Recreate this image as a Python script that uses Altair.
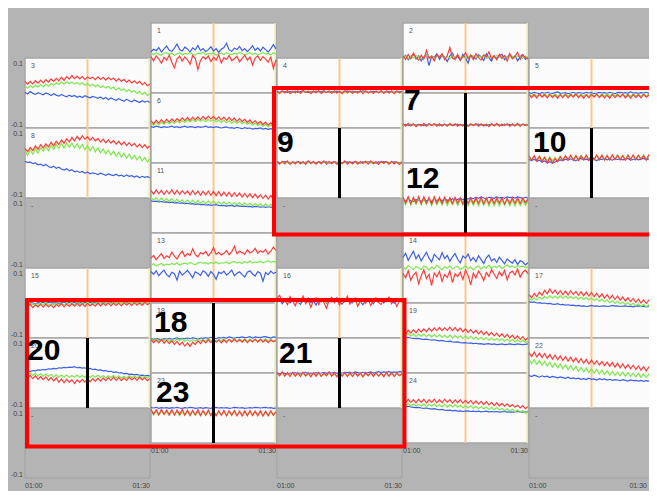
import altair as alt
import pandas as pd

# ---------------- data ----------------
N_POINTS = 49                       # samples from 01:00 to 01:30
X_TICK_LABELS = ["01:00", "01:30"]
Y_TICK_LABELS = ["0.1", "-0.1"]
MARK_MINUTE = 15                    # orange marker at 01:15
END_MINUTE = 30

PANEL_GRID = [                      # columns, top to bottom
    ["3", "8", "-", "15", "20", "-"],
    ["1", "6", "11", "13", "18", "23"],
    ["4", "9", "-", "16", "21", "-"],
    ["2", "7", "12", "14", "19", "24"],
    ["5", "10", "-", "17", "22", "-"],
]

# values in thousandths of the y unit (panel range -0.1 .. 0.1)
P1_RED = [4, -8, 6, -3, -15, 2, -6, 8, -12, -28, -2, 5, -9, 3, -5, -18, 7, -1, -33, -7, 4, -3, 6, -10, 2, -6, 9, -14, 1, -4, 7, -8, -2, 5, -11, -1, 8, -6, 3, -20, 0, 6, -7, 4, -3, -12, 2, -30, -5]
P1_GREEN = [14, 9, 15, 11, 8, 13, 16, 10, 14, 7, 12, 15, 9, 13, 11, 16, 10, 8, 14, 12, 17, 9, 13, 11, 15, 8, 12, 14, 10, 15, 12, 9, 14, 11, 16, 13, 8, 12, 15, 10, 14, 9, 12, 16, 11, 13, 9, 15, 12]
P1_BLUE = [18, 25, 21, 30, 17, 26, 34, 22, 19, 28, 40, 24, 20, 31, 26, 17, 29, 23, 36, 21, 27, 18, 24, 32, 20, 27, 16, 25, 30, 42, 23, 19, 28, 24, 33, 21, 27, 18, 26, 35, 22, 29, 20, 31, 24, 17, 27, 38, 26]

P2_RED = [6, -4, 10, -2, 14, 1, -6, 8, -3, 22, -1, 5, -8, 9, 2, 12, -5, 7, 30, 0, -4, 10, -7, 4, 15, -2, 8, -5, 12, 1, -6, 9, 3, 18, -3, 6, -5, 11, 0, 7, -9, 13, -2, 5, 16, -4, 8, 1, -3]
P2_GREEN = [2, 6, -1, 5, 0, 7, 3, -2, 4, 8, 1, 5, -1, 6, 3, 7, 0, 5, -2, 6, 2, 8, 1, 4, -1, 6, 3, 7, 0, 5, 2, 8, -1, 4, 6, 1, 7, 3, -2, 5, 2, 6, 4, 0, 6, 3, -1, 5, 2]
P2_BLUE = [0, 8, -5, 4, 11, -3, 6, -8, 3, 9, -22, 5, 1, 12, -4, 7, 2, -10, 6, 14, -2, 5, -6, 10, 0, -15, 8, 3, -3, 9, 4, -7, 12, 1, -9, 7, -2, 5, 11, -5, 3, 9, -1, 6, -8, 4, 10, -4, 2]

P3_RED = [34, 25, 33, 26, 35, 28, 37, 29, 38, 31, 40, 33, 42, 35, 45, 36, 47, 40, 50, 41, 48, 40, 47, 39, 46, 41, 45, 38, 46, 39, 45, 37, 44, 38, 43, 34, 41, 33, 39, 31, 37, 29, 35, 27, 33, 24, 30, 21, 26]
P3_GREEN = [20, 14, 21, 15, 22, 17, 24, 18, 25, 20, 27, 22, 29, 24, 31, 25, 32, 27, 31, 26, 30, 24, 29, 22, 27, 20, 25, 18, 23, 16, 21, 14, 19, 12, 17, 9, 15, 7, 12, 4, 10, 2, 7, -1, 5, -4, 2, -7, -3]
P3_BLUE = [2, -3, 4, -1, -4, 1, -2, -5, 0, -3, -7, -2, -6, -9, -4, -8, -11, -6, -10, -7, -12, -9, -13, -8, -11, -14, -10, -12, -15, -11, -17, -13, -19, -14, -18, -21, -16, -20, -24, -18, -22, -25, -20, -24, -27, -22, -26, -23, -27]

P4_RED = [5, -1, 6, 0, 7, -2, 5, 0, 6, -1, 7, 1, 5, -2, 6, 0, 7, -1, 5, 1, 6, -1, 6, 0, 5, -2, 7, 1, 6, -1, 5, 0, 7, -2, 6, 0, 5, -1, 6, 1, 7, -1, 5, 0, 6, -2, 5, 1, 4]
P4_GREEN = [3, 0, 4, 1, 5, 0, 4, 1, 5, 0, 4, 2, 5, 1, 4, 1, 5, 0, 4, 2, 5, 1, 4, 0, 5, 1, 4, 0, 5, 1, 4, 0, 5, 2, 4, 1, 5, 0, 4, 1, 5, 2, 4, 0, 5, 1, 4, 0, 3]
P4_BLUE = [4, 2, 5, 3, 1, 4, 3, 5, 2, 4, 6, 3, 1, 4, 2, 5, 3, 4, 6, 2, 3, 4, 1, 5, 3, 2, 4, 6, 3, 5, 2, 4, 3, 6, 4, 2, 4, 5, 3, 1, 4, 2, 5, 3, 4, 2, 5, 3, 4]

P5_RED = [-4, -13, -5, -14, -3, -12, -5, -14, -4, -13, -6, -15, -5, -13, -4, -14, -5, -12, -3, -13, -6, -15, -5, -14, -4, -12, -3, -13, -5, -14, -6, -15, -4, -13, -5, -12, -3, -14, -5, -15, -4, -13, -5, -14, -4, -12, -6, -15, -8]
P5_GREEN = [-3, -9, -2, -10, -4, -9, -2, -10, -3, -9, -2, -10, -4, -9, -2, -10, -3, -9, -2, -10, -4, -9, -3, -10, -2, -9, -4, -10, -3, -9, -2, -10, -3, -9, -2, -10, -4, -9, -3, -10, -2, -9, -3, -10, -2, -9, -4, -10, -5]
P5_BLUE = [1, -1, 2, 0, -2, 1, -1, 2, 0, -1, 1, 3, -1, 0, 1, -2, 0, 2, -1, 1, 0, -1, 2, 0, 1, -2, 0, 2, 0, 1, -1, 2, 0, -2, 1, 2, 0, 1, -1, 3, 0, 1, -1, 1, 0, 2, -1, 1, 0]

P6_RED = [21, 12, 22, 14, 24, 15, 25, 17, 26, 18, 27, 20, 29, 21, 30, 22, 31, 23, 32, 24, 33, 25, 34, 26, 33, 24, 32, 23, 31, 22, 30, 21, 28, 19, 27, 18, 25, 16, 23, 14, 21, 12, 19, 10, 17, 8, 15, 6, 12]
P6_GREEN = [15, 8, 16, 9, 17, 11, 18, 12, 19, 13, 20, 15, 21, 16, 23, 17, 24, 18, 25, 19, 24, 18, 25, 19, 24, 17, 23, 16, 22, 15, 21, 14, 20, 13, 19, 12, 18, 10, 16, 8, 14, 7, 13, 5, 11, 3, 9, 2, 7]
P6_BLUE = [4, 2, 5, 3, 1, 4, 2, 3, 5, 2, 4, 1, 3, 5, 2, 4, 3, 1, 4, 2, 3, 5, 2, 3, 1, 4, 2, 0, 2, 3, 0, 1, -1, 2, 0, -2, 1, -1, 0, -3, -1, -2, 0, -3, -1, -4, -2, -3, -4]

P7_RED = [12, 5, 13, 6, 12, 4, 11, 6, 13, 5, 12, 7, 13, 5, 12, 6, 11, 5, 13, 7, 12, 5, 11, 6, 13, 5, 12, 7, 13, 5, 12, 6, 11, 4, 12, 6, 13, 5, 11, 7, 12, 5, 12, 6, 13, 5, 11, 7, 10]
P7_GREEN = [9, 6, 11, 7, 10, 5, 9, 7, 11, 6, 10, 8, 11, 6, 10, 7, 11, 6, 9, 8, 11, 6, 10, 7, 11, 5, 9, 8, 11, 6, 10, 7, 11, 5, 10, 7, 11, 6, 10, 8, 11, 6, 10, 7, 9, 6, 11, 8, 9]
P7_BLUE = [8, 10, 7, 9, 11, 8, 9, 10, 7, 9, 11, 8, 10, 9, 7, 9, 11, 8, 10, 7, 9, 11, 8, 10, 9, 7, 10, 8, 9, 11, 8, 10, 7, 9, 11, 8, 10, 9, 7, 11, 9, 10, 9, 7, 10, 8, 11, 9, 10]

P8_RED = [42, 32, 44, 36, 49, 39, 52, 43, 55, 46, 59, 49, 62, 53, 66, 56, 69, 60, 73, 63, 76, 66, 78, 68, 75, 65, 73, 63, 70, 60, 68, 58, 66, 57, 64, 54, 62, 52, 60, 50, 58, 49, 56, 46, 54, 44, 52, 42, 49]
P8_GREEN = [36, 22, 38, 25, 41, 28, 44, 33, 47, 35, 50, 39, 54, 42, 56, 43, 58, 45, 57, 44, 55, 41, 53, 38, 50, 35, 47, 32, 43, 29, 40, 26, 37, 23, 34, 20, 31, 17, 28, 14, 25, 11, 22, 9, 19, 6, 16, 3, 12]
P8_BLUE = [5, 1, 3, -2, 0, -5, -3, -8, -4, -10, -13, -9, -15, -12, -17, -20, -16, -22, -19, -25, -23, -27, -24, -29, -26, -31, -28, -30, -33, -29, -32, -35, -31, -34, -36, -32, -37, -35, -39, -34, -38, -36, -40, -37, -42, -38, -41, -39, -42]

P9_RED = [4, -3, 5, -2, 6, -4, 3, -3, 5, -2, 4, -4, 6, -1, 5, -3, 4, -2, 6, -3, 5, -2, 4, -4, 5, -1, 6, -3, 4, -2, 5, -3, 4, -1, 5, -3, 6, -2, 4, -4, 5, -1, 4, -3, 5, -2, 3, -4, 2]
P9_GREEN = [2, -2, 3, -3, 2, -1, 3, -2, 3, -3, 2, -1, 4, -2, 3, -2, 2, -3, 4, -1, 2, -2, 3, -1, 2, -3, 4, -2, 2, -3, 3, -1, 2, -2, 4, -1, 3, -2, 2, -3, 3, -1, 2, -2, 3, -3, 2, -1, 1]
P9_BLUE = [3, 1, 2, 4, 2, 0, 3, 1, 3, 2, 0, 2, 4, 1, 2, 0, 3, 1, 2, 3, 0, 2, 4, 1, 3, 0, 2, 3, 1, 2, 4, 2, 0, 3, 1, 3, 1, 2, 0, 3, 2, 4, 2, 0, 1, 3, 2, 1, 2]

P10_RED = [20, 8, 21, 6, 19, 3, 16, 1, 14, 0, 12, 4, 18, 7, 21, 9, 22, 8, 21, 7, 20, 9, 22, 8, 21, 10, 23, 9, 22, 8, 21, 9, 23, 10, 22, 9, 21, 8, 22, 10, 23, 9, 22, 10, 21, 8, 23, 9, 20]
P10_GREEN = [18, 10, 20, 9, 19, 8, 18, 7, 17, 6, 16, 8, 19, 9, 20, 10, 21, 9, 22, 11, 21, 10, 22, 11, 21, 9, 22, 10, 23, 11, 22, 10, 21, 12, 23, 11, 22, 10, 23, 12, 21, 11, 22, 12, 23, 11, 21, 10, 20]
P10_BLUE = [10, 7, 11, 5, 8, 3, 6, 0, 4, -1, 3, 6, 9, 7, 11, 8, 12, 9, 7, 10, 13, 9, 11, 8, 12, 10, 7, 11, 10, 13, 9, 11, 8, 12, 10, 12, 9, 11, 13, 8, 10, 12, 9, 11, 13, 10, 12, 9, 11]

P11_RED = [22, 11, 23, 12, 22, 10, 21, 12, 23, 11, 22, 10, 21, 12, 20, 9, 21, 10, 20, 8, 19, 9, 20, 8, 19, 7, 18, 6, 17, 6, 16, 4, 15, 5, 14, 3, 13, 2, 12, 1, 11, 0, 9, -1, 8, -3, 7, -4, 5]
P11_GREEN = [2, -7, 1, -8, 0, -9, -1, -10, -2, -11, -3, -12, -5, -13, -6, -14, -6, -15, -7, -15, -8, -16, -8, -16, -9, -17, -10, -18, -11, -18, -12, -19, -13, -20, -13, -21, -14, -21, -15, -22, -16, -23, -16, -24, -17, -25, -18, -25, -19]
P11_BLUE = [-8, -10, -9, -11, -10, -12, -11, -13, -12, -14, -13, -15, -14, -16, -15, -17, -16, -18, -17, -19, -18, -20, -19, -21, -20, -19, -21, -22, -21, -23, -22, -21, -24, -22, -23, -24, -23, -25, -24, -26, -24, -25, -26, -25, -27, -25, -26, -27, -26]

P12_RED = [3, -15, 4, -16, 2, -14, 4, -16, 3, -15, 2, -17, 4, -15, 2, -16, 3, -14, 1, -16, 2, -15, 1, -17, 2, -15, 0, -16, 1, -15, 2, -17, 0, -16, 1, -16, 0, -15, 1, -17, -1, -16, 0, -15, 1, -16, -1, -14, -3]
P12_GREEN = [-2, -19, -1, -20, -3, -18, -2, -20, -2, -19, -3, -21, -1, -20, -3, -20, -2, -21, -4, -19, -3, -21, -4, -20, -3, -22, -5, -21, -4, -22, -5, -21, -3, -23, -6, -22, -5, -23, -6, -21, -4, -22, -6, -23, -5, -22, -7, -21, -8]
P12_BLUE = [-4, -9, -3, -8, -10, -5, -7, -9, -4, -8, -6, -10, -3, -7, -5, -8, -3, -6, -9, -2, -5, -4, -1, -5, 0, -3, 1, -2, 2, -1, 3, 0, -2, 2, 1, -1, 3, 0, 2, -1, 3, 1, 2, 0, 3, 1, -1, 2, 0]

P13_RED = [28, 36, 24, 33, 41, 27, 35, 30, 45, 34, 26, 39, 48, 33, 41, 36, 55, 38, 32, 44, 40, 47, 35, 43, 58, 39, 45, 37, 42, 50, 38, 46, 62, 41, 48, 44, 39, 52, 43, 47, 56, 42, 49, 45, 53, 40, 48, 60, 50]
P13_GREEN = [8, 12, 6, 10, 13, 7, 11, 9, 13, 10, 15, 8, 12, 14, 11, 16, 12, 9, 14, 17, 13, 15, 11, 16, 13, 18, 12, 15, 14, 17, 12, 16, 19, 14, 17, 13, 18, 15, 20, 14, 17, 16, 19, 15, 18, 21, 16, 19, 17]
P13_BLUE = [-10, -18, -8, -22, -13, -6, -19, -25, -12, -16, -35, -9, -20, -14, -7, -17, -28, -11, -15, -21, -8, -13, -24, -10, -18, -32, -12, -16, -9, -20, -14, -6, -22, -15, -11, -19, -26, -12, -8, -17, -23, -10, -15, -38, -13, -19, -9, -16, -12]

P14_RED = [-15, -28, -8, -35, -20, -12, -45, -22, -5, -30, -18, -50, -14, -25, -10, -38, -19, -27, -8, -42, -16, -24, -12, -33, -6, -21, -48, -15, -28, -9, -20, -36, -13, -24, -4, -18, -30, -11, -22, -7, -34, -14, -9, -20, -3, -26, -12, -6, -16]
P14_GREEN = [4, -3, 7, 1, -5, 5, 0, -4, 6, 2, -6, 3, -2, 8, 1, -5, 4, -1, 6, -3, 2, 5, -4, 0, 7, -2, 3, -6, 2, 6, -3, 4, 0, 8, -1, 5, 1, 7, -2, 4, 9, 2, 6, 0, 8, 3, 5, 1, 4]
P14_BLUE = [30, 42, 22, 35, 48, 26, 38, 20, 33, 45, 28, 17, 39, 31, 24, 44, 27, 36, 19, 32, 41, 25, 15, 34, 28, 40, 21, 30, 18, 35, 24, 13, 29, 37, 20, 27, 16, 31, 22, 12, 26, 19, 14, 24, 10, 21, 17, 9, 15]

P15_RED = [-4, -12, -3, -13, -5, -11, -4, -12, -3, -11, -5, -13, -4, -10, -2, -11, -3, -10, -2, -9, -1, -9, -2, -10, -1, -8, -3, -9, 0, -8, -1, -7, 1, -8, 0, -7, 0, -8, 1, -6, 0, -7, 1, -6, 0, -7, 2, -5, 0]
P15_GREEN = [-1, -6, 0, -5, -2, -7, 0, -5, 1, -6, -1, -5, 0, -6, 0, -5, 1, -4, 0, -5, 2, -4, 1, -3, 2, -4, 0, -3, 2, -3, 1, -2, 3, -3, 2, -2, 3, -1, 2, -2, 3, -1, 3, -1, 2, -2, 4, 0, 2]
P15_BLUE = [1, -1, 2, 0, -2, 1, 0, 2, -1, 1, 3, 0, 2, -1, 1, 3, 0, 2, 4, 1, 2, 0, 3, 1, 4, 2, 0, 3, 2, 4, 1, 3, 5, 2, 3, 4, 1, 3, 5, 2, 4, 3, 5, 2, 4, 3, 5, 2, 4]

P16_RED = [14, 22, 3, 10, -5, 18, 6, -8, 12, 4, 20, -2, 9, -12, 7, 15, -4, 11, 2, -15, 8, 16, 0, 9, -6, 13, 3, 19, -3, 8, 14, -9, 5, 11, -1, 10, -7, 6, 15, 1, -4, 12, 4, 17, -2, 9, -10, 7, 2]
P16_GREEN = [9, 5, 12, 3, 8, 11, 4, 7, 1, 10, 6, 13, 2, 8, 5, 11, 3, 9, 6, 0, 10, 7, 12, 4, 8, 2, 9, 6, 11, 3, 7, 10, 1, 8, 5, 9, 4, 12, 6, 2, 10, 7, 3, 8, 5, 11, 4, 9, 6]
P16_BLUE = [2, 10, -2, 7, 13, 0, 8, 12, 3, -4, 9, 5, 14, 1, 6, -6, 10, 4, 11, -1, 7, 3, 9, 15, 2, -3, 8, 12, 5, 0, 10, 13, 4, -5, 7, 11, 6, -2, 9, 3, 12, 0, 8, 4, 13, -1, 6, 10, 5]

P17_RED = [24, 15, 27, 18, 31, 22, 36, 26, 40, 28, 37, 25, 35, 24, 34, 23, 35, 24, 33, 22, 32, 21, 31, 20, 30, 18, 28, 16, 26, 14, 24, 12, 22, 10, 20, 8, 17, 6, 15, 4, 13, 2, 11, 0, 9, -1, 8, -2, 5]
P17_GREEN = [14, 8, 15, 9, 17, 11, 19, 13, 21, 14, 20, 13, 21, 14, 20, 13, 19, 12, 18, 11, 17, 10, 16, 9, 14, 7, 13, 5, 11, 3, 9, 1, 7, -1, 5, -3, 3, -5, 1, -6, -1, -8, -2, -10, -4, -11, -5, -12, -9]
P17_BLUE = [4, 2, 3, 0, 1, -1, 0, -2, -1, -3, -4, -2, -5, -4, -6, -5, -7, -6, -8, -7, -9, -8, -10, -9, -7, -9, -8, -10, -9, -8, -10, -9, -7, -9, -8, -10, -9, -8, -10, -9, -11, -9, -8, -10, -9, -11, -9, -10, -9]

P18_RED = [-5, -13, -6, -14, -4, -15, -7, -16, -8, -18, -10, -20, -12, -23, -14, -24, -12, -19, -8, -16, -6, -14, -5, -13, -4, -12, -6, -14, -5, -13, -4, -12, -3, -11, -5, -12, -4, -13, -5, -11, -3, -12, -4, -12, -5, -13, -6, -11, -7]
P18_GREEN = [-3, -8, -2, -9, -4, -8, -3, -9, -4, -10, -3, -8, -2, -9, -4, -10, -5, -9, -3, -8, -4, -9, -3, -8, -2, -9, -4, -8, -3, -9, -4, -8, -2, -9, -3, -8, -2, -9, -3, -8, -4, -9, -3, -8, -2, -9, -4, -8, -5]
P18_BLUE = [-2, -4, -1, -3, -5, -2, -3, -1, -4, -2, 0, -3, -1, -2, 0, -2, 1, -1, -3, 0, -1, 1, -1, 2, 0, -2, 1, 0, 2, 0, 3, 1, -1, 2, 1, 3, 1, 2, 4, 0, 3, 2, 1, 3, 4, 2, 0, 3, 2]

P19_RED = [21, 12, 22, 14, 24, 15, 25, 17, 26, 18, 28, 19, 29, 21, 30, 21, 29, 22, 31, 21, 30, 20, 28, 18, 26, 16, 24, 14, 22, 12, 20, 10, 18, 8, 16, 6, 14, 4, 12, 2, 10, 0, 8, -2, 6, -4, 4, -6, 1]
P19_GREEN = [12, 5, 13, 6, 12, 4, 11, 5, 11, 4, 10, 3, 10, 3, 9, 2, 8, 1, 8, 0, 7, 0, 6, -1, 5, -2, 4, -3, 3, -4, 2, -5, 1, -6, 0, -7, -1, -8, -2, -9, -3, -10, -4, -11, -5, -12, -6, -13, -9]
P19_BLUE = [3, 1, 2, 0, -1, -2, -1, -3, -4, -3, -5, -6, -5, -7, -8, -7, -9, -10, -9, -11, -12, -11, -13, -14, -13, -15, -14, -16, -15, -17, -16, -18, -17, -16, -18, -17, -19, -18, -17, -19, -18, -17, -18, -19, -17, -18, -19, -18, -17]

P20_RED = [-5, -14, -7, -16, -8, -18, -10, -19, -11, -21, -13, -23, -14, -26, -17, -28, -18, -27, -19, -30, -20, -27, -18, -26, -17, -25, -16, -24, -15, -23, -14, -22, -13, -21, -12, -21, -13, -22, -14, -21, -12, -20, -13, -21, -12, -20, -14, -22, -16]
P20_GREEN = [0, -6, 1, -7, -1, -8, -2, -9, -3, -10, -4, -11, -5, -12, -6, -12, -5, -13, -7, -12, -6, -13, -7, -12, -6, -13, -7, -12, -6, -13, -7, -14, -8, -13, -7, -14, -8, -15, -9, -14, -8, -13, -7, -14, -8, -15, -9, -14, -10]
P20_BLUE = [3, 5, 4, 7, 6, 9, 8, 10, 9, 12, 11, 13, 12, 15, 14, 16, 15, 17, 16, 18, 15, 16, 14, 15, 12, 13, 10, 11, 8, 9, 6, 7, 4, 5, 2, 3, 0, 1, -2, -1, -4, -3, -5, -4, -7, -6, -8, -7, -9]

P21_RED = [2, -8, 3, -9, 1, -10, 2, -9, 1, -10, 2, -8, 0, -11, 1, -9, 2, -10, 0, -8, 3, -9, 1, -11, 2, -9, 0, -10, 1, -10, 2, -9, 0, -11, 1, -8, 2, -10, 1, -9, 0, -11, 2, -9, 1, -10, 0, -8, -2]
P21_GREEN = [-1, -7, 0, -8, -2, -7, 0, -8, -1, -7, 0, -9, -2, -8, -1, -8, 0, -9, -2, -7, -1, -8, -2, -9, -1, -7, 0, -8, -2, -9, -1, -8, 0, -9, -2, -7, -1, -8, 0, -9, -2, -8, -1, -8, 0, -9, -2, -7, -3]
P21_BLUE = [0, -2, 1, -1, -3, 0, -1, 1, -2, 0, -1, 2, -1, 0, -2, 1, -1, 0, 2, -1, 1, 0, 2, -1, 1, 0, 2, 1, 2, 0, 3, 1, -1, 2, 0, 1, 3, 0, 2, 4, 1, 3, 2, 4, 1, 3, 2, 4, 3]

P22_RED = [58, 47, 60, 46, 57, 44, 55, 42, 53, 40, 51, 38, 49, 36, 47, 34, 45, 32, 43, 30, 41, 28, 39, 26, 37, 25, 35, 23, 33, 21, 31, 19, 30, 17, 28, 15, 26, 13, 24, 12, 22, 10, 20, 8, 18, 6, 17, 5, 14]
P22_GREEN = [40, 27, 38, 25, 36, 22, 33, 20, 31, 17, 28, 15, 26, 12, 23, 10, 21, 8, 19, 5, 16, 3, 14, 1, 12, -1, 10, -3, 8, -4, 6, -6, 5, -7, 3, -8, 2, -9, 1, -10, 0, -11, -1, -12, -2, -13, -3, -14, -8]
P22_BLUE = [-7, -10, -6, -9, -12, -8, -11, -9, -13, -10, -12, -14, -11, -13, -15, -12, -16, -14, -17, -15, -18, -16, -19, -15, -18, -17, -20, -16, -19, -17, -20, -18, -21, -19, -20, -22, -19, -21, -23, -20, -22, -21, -23, -21, -24, -22, -23, -25, -23]

P23_RED = [-4, -18, -5, -19, -4, -18, -6, -19, -5, -20, -6, -19, -4, -20, -6, -21, -7, -20, -5, -21, -7, -20, -6, -21, -7, -22, -8, -21, -7, -22, -8, -21, -7, -22, -9, -23, -8, -22, -7, -21, -9, -22, -8, -23, -9, -22, -8, -21, -10]
P23_GREEN = [-9, -20, -10, -21, -9, -19, -10, -21, -9, -20, -10, -22, -11, -21, -10, -21, -9, -20, -11, -22, -10, -21, -10, -20, -9, -21, -11, -20, -10, -21, -11, -20, -9, -21, -10, -20, -11, -21, -10, -22, -11, -20, -11, -22, -10, -21, -11, -20, -12]
P23_BLUE = [1, 0, 2, -1, 1, 0, 1, -1, 1, 0, 2, 0, -1, 1, 0, 2, 1, -1, 0, 1, -1, 1, 0, -1, 1, 2, 0, 1, 0, 1, -1, 0, 2, 1, 0, 1, -1, 0, 1, 0, 2, 1, 0, 1, 2, 0, 1, -1, 0]

P24_RED = [24, 15, 25, 16, 24, 15, 25, 16, 25, 15, 24, 16, 25, 15, 24, 15, 25, 16, 24, 14, 23, 15, 24, 14, 22, 13, 21, 12, 20, 11, 19, 10, 18, 9, 16, 7, 15, 6, 13, 5, 12, 4, 10, 2, 8, 0, 7, -2, 4]
P24_GREEN = [12, 6, 13, 5, 12, 6, 11, 5, 12, 4, 11, 5, 12, 4, 10, 3, 11, 2, 10, 3, 9, 2, 8, 1, 7, 0, 6, -1, 5, -2, 4, -3, 3, -4, 2, -5, 1, -6, -1, -8, -2, -9, -3, -11, -5, -13, -7, -15, -11]
P24_BLUE = [6, 4, 5, 3, 2, 1, 2, 0, -1, 0, -2, -3, -2, -4, -5, -4, -6, -7, -6, -8, -7, -9, -8, -10, -9, -8, -10, -9, -10, -9, -11, -10, -9, -11, -10, -11, -10, -12, -11, -10, -12, -11, -12, -11, -10, -12, -11, -12, -11]

SERIES = {
    "1": (P1_BLUE, P1_GREEN, P1_RED), "2": (P2_BLUE, P2_GREEN, P2_RED),
    "3": (P3_BLUE, P3_GREEN, P3_RED), "4": (P4_BLUE, P4_GREEN, P4_RED),
    "5": (P5_BLUE, P5_GREEN, P5_RED), "6": (P6_BLUE, P6_GREEN, P6_RED),
    "7": (P7_BLUE, P7_GREEN, P7_RED), "8": (P8_BLUE, P8_GREEN, P8_RED),
    "9": (P9_BLUE, P9_GREEN, P9_RED), "10": (P10_BLUE, P10_GREEN, P10_RED),
    "11": (P11_BLUE, P11_GREEN, P11_RED), "12": (P12_BLUE, P12_GREEN, P12_RED),
    "13": (P13_BLUE, P13_GREEN, P13_RED), "14": (P14_BLUE, P14_GREEN, P14_RED),
    "15": (P15_BLUE, P15_GREEN, P15_RED), "16": (P16_BLUE, P16_GREEN, P16_RED),
    "17": (P17_BLUE, P17_GREEN, P17_RED), "18": (P18_BLUE, P18_GREEN, P18_RED),
    "19": (P19_BLUE, P19_GREEN, P19_RED), "20": (P20_BLUE, P20_GREEN, P20_RED),
    "21": (P21_BLUE, P21_GREEN, P21_RED), "22": (P22_BLUE, P22_GREEN, P22_RED),
    "23": (P23_BLUE, P23_GREEN, P23_RED), "24": (P24_BLUE, P24_GREEN, P24_RED),
}
SERIES_ORDER = ["blue", "green", "red"]

# annotations (panel names)
HIGHLIGHT_BOXES = [["9", "7", "12", "10"], ["20", "18", "23", "21"]]
MARKER_GROUPS = [["9"], ["7", "12"], ["10"], ["20"], ["18", "23"], ["21"]]
BIG_LABELS = ["9", "7", "12", "10", "20", "18", "21", "23"]

# ---------------- layout / style ----------------
W, H = 641, 483
PX_PER_MIN = 125 / 30
PX_PER_UNIT = 350
COL_STEP = 126 / PX_PER_MIN
PANEL_SPAN = 0.2
TOP_ODD = 15 / PX_PER_UNIT
TOP_EVEN = TOP_ODD + 0.1
LEFT_PAD = 17 / PX_PER_MIN
X_RIGHT = -LEFT_PAD + W / PX_PER_MIN
COLORS = {"blue": "#3d5fe6", "green": "#7de84c", "red": "#ff3c3c"}
BG = "#b4b4b4"
FONT = "Liberation Sans"
BIG_NUDGE = {"9": (0, 24), "7": (1, 17), "12": (3, 25), "10": (4, 24),
             "20": (2, 22), "18": (3, 29), "21": (2, 25), "23": (5, 29)}
BOX_PAD = [(-3, 12, -5, 1.5), (2, 2.5, -3, 3.5)]   # left, right, top, bottom px


def px_x(p):
    return p / PX_PER_MIN


def px_y(p):
    return p / PX_PER_UNIT


panel_pos = {}
for c, col in enumerate(PANEL_GRID):
    for r, name in enumerate(col):
        x0 = c * COL_STEP
        y0 = (TOP_ODD if c % 2 else TOP_EVEN) + r * PANEL_SPAN
        panel_pos[(c, r)] = (name, x0, x0 + END_MINUTE, y0, y0 + PANEL_SPAN)

named = {v[0]: v for v in panel_pos.values() if v[0] != "-"}

panels = pd.DataFrame([
    {"x": v[1], "x2": v[2], "y": v[3], "y2": v[4], "name": v[0],
     "is_empty": v[0] == "-"} for v in panel_pos.values()
])

line_rows = {s: [] for s in SERIES_ORDER}
for name, arrs in SERIES.items():
    _, x0, x1, y0, y1 = named[name]
    for s, arr in zip(SERIES_ORDER, arrs):
        for i, v in enumerate(arr):
            t = i * END_MINUTE / (N_POINTS - 1)
            line_rows[s].append({"x": x0 + t, "y": y0 + 0.1 - v / 1000.0,
                                 "key": name + s})

xscale = alt.Scale(domain=[-LEFT_PAD, X_RIGHT], nice=False, zero=False)
yscale = alt.Scale(domain=[0, H / PX_PER_UNIT], reverse=True, nice=False, zero=False)
X = alt.X("x:Q", scale=xscale, axis=None)
Y = alt.Y("y:Q", scale=yscale, axis=None)
X2 = alt.X2("x2:Q")
Y2 = alt.Y2("y2:Q")

data_panels = panels[~panels["is_empty"]].reset_index(drop=True)
empty_panels = panels[panels["is_empty"]].reset_index(drop=True)

bg_data = alt.Chart(data_panels).mark_rect(fill="#fbfbfb", stroke="#a6a6a6", strokeWidth=1.5).encode(X, X2, Y, Y2)
bg_empty = alt.Chart(empty_panels).mark_rect(fill=BG, stroke="#a2a2a2", strokeWidth=1).encode(X, X2, Y, Y2)

mark_df = data_panels.assign(xm=data_panels["x"] + MARK_MINUTE, xe=data_panels["x2"] - px_x(0.8))
orange = alt.Chart(mark_df).mark_rule(color="#f8c98e", strokeWidth=2).encode(
    alt.X("xm:Q", scale=xscale, axis=None), Y, Y2)
yellow = alt.Chart(mark_df).mark_rule(color="#efeba0", strokeWidth=1.5).encode(
    alt.X("xe:Q", scale=xscale, axis=None), Y, Y2)

line_layers = [
    alt.Chart(pd.DataFrame(line_rows[s])).mark_line(color=COLORS[s], strokeWidth=1.2, interpolate="linear").encode(
        X, Y, detail="key:N")
    for s in SERIES_ORDER
]

rule_rows = []
for grp in MARKER_GROUPS:
    ps = [named[n] for n in grp]
    rule_rows.append({"x": ps[0][1] + MARK_MINUTE, "y": min(p[3] for p in ps),
                      "y2": max(p[4] for p in ps)})
black = alt.Chart(pd.DataFrame(rule_rows)).mark_rule(color="#000000", strokeWidth=3).encode(X, Y, Y2)

box_rows = []
for grp, (pl, pr, pt, pb) in zip(HIGHLIGHT_BOXES, BOX_PAD):
    ps = [named[n] for n in grp]
    box_rows.append({"x": min(p[1] for p in ps) + px_x(pl), "x2": max(p[2] for p in ps) + px_x(pr),
                     "y": min(p[3] for p in ps) + px_y(pt), "y2": max(p[4] for p in ps) + px_y(pb)})
boxes = alt.Chart(pd.DataFrame(box_rows)).mark_rect(
    fillOpacity=0, stroke="#ff0000", strokeWidth=4).encode(X, X2, Y, Y2)

small_df = panels.assign(tx=panels["x"] + px_x(6), ty=panels["y"] + px_y(8))
small = alt.Chart(small_df).mark_text(align="left", baseline="middle", fontSize=7, font=FONT, color="#555555").encode(
    alt.X("tx:Q", scale=xscale, axis=None), alt.Y("ty:Q", scale=yscale, axis=None), text="name:N")

left_col = panels.iloc[:len(PANEL_GRID[0])]
ytop = pd.DataFrame({"x": left_col["x"] - px_x(2), "y": left_col["y"] + px_y(1.5), "t": Y_TICK_LABELS[0]})
ybot = pd.DataFrame({"x": left_col["x"] - px_x(2), "y": left_col["y2"], "t": Y_TICK_LABELS[1]})
ylab_top = alt.Chart(ytop).mark_text(align="right", baseline="top", fontSize=7, font=FONT, color="#444444").encode(X, Y, text="t:N")
ylab_bot = alt.Chart(ybot).mark_text(align="right", baseline="bottom", fontSize=7, font=FONT, color="#444444").encode(X, Y, text="t:N")

xl_rows, xr_rows = [], []
for c, col in enumerate(PANEL_GRID):
    _, x0, x1, y0, y1 = panel_pos[(c, len(col) - 1)]
    xl_rows.append({"x": x0, "y": y1 + px_y(4), "t": X_TICK_LABELS[0]})
    xr_rows.append({"x": min(x1, X_RIGHT - px_x(2)), "y": y1 + px_y(4), "t": X_TICK_LABELS[1]})
xlab_l = alt.Chart(pd.DataFrame(xl_rows)).mark_text(align="left", baseline="top", fontSize=7, font=FONT, color="#444444").encode(X, Y, text="t:N")
xlab_r = alt.Chart(pd.DataFrame(xr_rows)).mark_text(align="right", baseline="top", fontSize=7, font=FONT, color="#444444").encode(X, Y, text="t:N")

big_rows = []
for n in BIG_LABELS:
    _, x0, x1, y0, y1 = named[n]
    dx, dy = BIG_NUDGE[n]
    big_rows.append({"x": x0 + px_x(dx), "y": y0 + px_y(dy), "t": n})
big = alt.Chart(pd.DataFrame(big_rows)).mark_text(
    align="left", baseline="alphabetic", fontSize=30, font=FONT, fontWeight="bold", color="#000000").encode(X, Y, text="t:N")

chart = alt.layer(
    bg_empty, bg_data, orange, yellow, *line_layers, black, boxes,
    small, ylab_top, ylab_bot, xlab_l, xlab_r, big,
).properties(
    width=W, height=H, background=BG, padding=0, autosize="none"
).configure_view(strokeWidth=0)

chart.save("out.html", embed_options={"renderer": "svg", "actions": False})
